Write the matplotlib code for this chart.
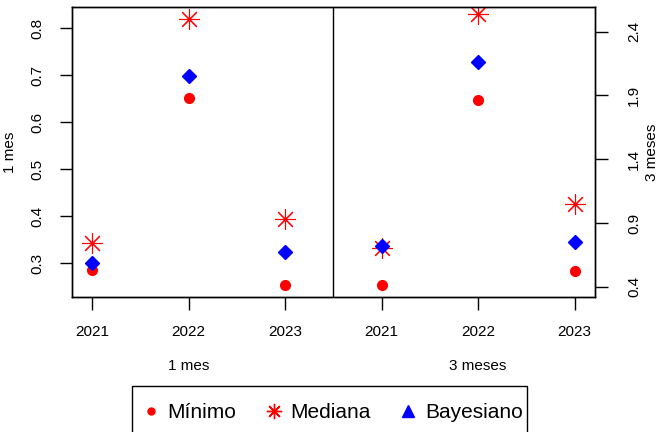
import matplotlib.pyplot as plt
from matplotlib.lines import Line2D
from matplotlib.patches import Rectangle

plt.rcParams['font.family'] = ['Liberation Sans', 'DejaVu Sans']

years = ['2021', '2022', '2023']
# 1 mes
minimo_1 = [0.287, 0.653, 0.254]
mediana_1 = [0.344, 0.820, 0.394]
bayes_1 = [0.300, 0.699, 0.324]
# 3 meses
minimo_3 = [0.413, 1.864, 0.523]
mediana_3 = [0.703, 2.539, 1.049]
bayes_3 = [0.720, 2.165, 0.748]

x1 = [1, 2, 3]
x3 = [4, 5, 6]
star = (8, 2, 0)

fig = plt.figure(figsize=(6.67, 4.32), dpi=100)
ax = fig.add_axes([0.1075, 0.313, 0.7845, 0.670])
ax2 = ax.twinx()

ax.plot(x1, minimo_1, 'o', color='red', ms=7, ls='none')
ax.plot(x1, mediana_1, marker=star, color='red', ms=15, mew=0.8, ls='none')
ax.plot(x1, bayes_1, 'D', color='blue', ms=7, ls='none')

ax2.plot(x3, minimo_3, 'o', color='red', ms=7, ls='none')
ax2.plot(x3, mediana_3, marker=star, color='red', ms=15, mew=0.8, ls='none')
ax2.plot(x3, bayes_3, 'D', color='blue', ms=7, ls='none')

ax.axvline(3.5, color='black', lw=1)
ax.set_xlim(0.79, 6.21)
ax.set_ylim(0.229, 0.845)
ax2.set_ylim(0.322, 2.591)

ax.set_xticks(x1 + x3)
ax.set_xticklabels(years + years)
ax.set_yticks([0.3, 0.4, 0.5, 0.6, 0.7, 0.8])
ax2.set_yticks([0.4, 0.9, 1.4, 1.9, 2.4])

for a in (ax, ax2):
    for s in a.spines.values():
        s.set_linewidth(1)
    a.tick_params(length=9, width=1, labelsize=11, pad=11)
ax2.tick_params(axis='y', pad=14)
for lab in ax.get_yticklabels() + ax2.get_yticklabels():
    lab.set_rotation(90)
    lab.set_va('center')

ax.set_ylabel('1 mes', fontsize=11, labelpad=9)
ax2.set_ylabel('3 meses', fontsize=11, labelpad=3)

ax.text(2, -0.24, '1 mes', transform=ax.get_xaxis_transform(), ha='center', va='center', fontsize=11)
ax.text(5, -0.24, '3 meses', transform=ax.get_xaxis_transform(), ha='center', va='center', fontsize=11)

# legend box (runs past the bottom edge, as in the original)
fig.add_artist(Rectangle((132 / 667, -0.05), (527 - 132) / 667, 0.05 + 46 / 432,
                         transform=fig.transFigure, fill=False, ec='black', lw=1))
handles = [
    Line2D([], [], marker='o', color='red', ms=5, ls='none'),
    Line2D([], [], marker=star, color='red', ms=11, mew=1, ls='none'),
    Line2D([], [], marker='^', color='blue', ms=8, ls='none'),
]
fig.legend(handles, ['Mínimo', 'Mediana', 'Bayesiano'], ncol=3,
           loc='center left', bbox_to_anchor=(132 / 667, 1 - 413 / 432),
           borderaxespad=0, fontsize=15, frameon=False,
           handletextpad=0.4, columnspacing=1.4, borderpad=0.5, handlelength=0.8)

fig.savefig('out.png', dpi=100)
